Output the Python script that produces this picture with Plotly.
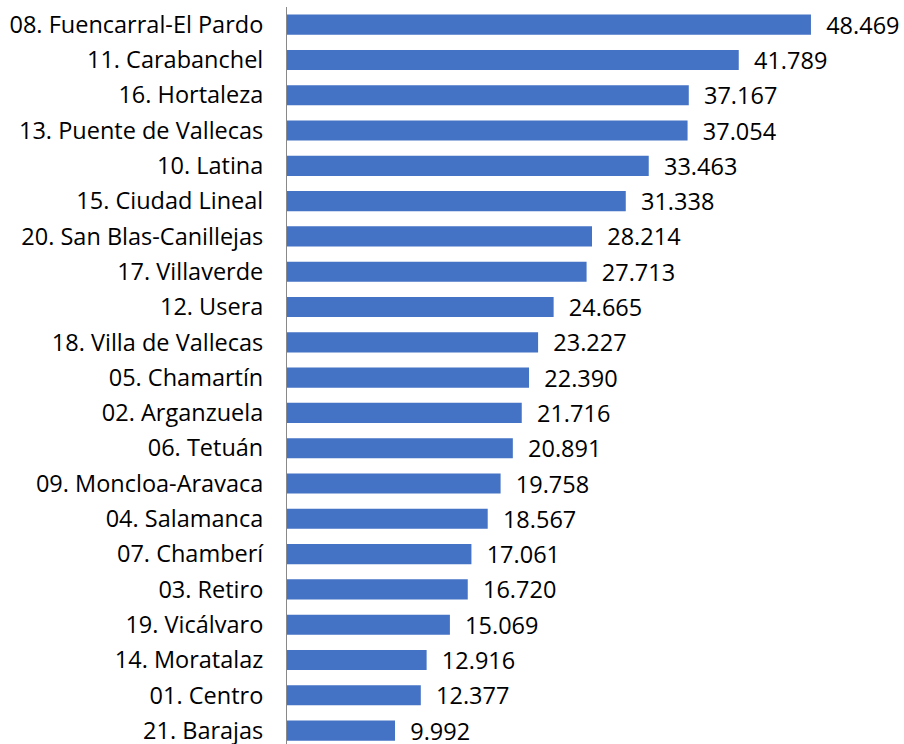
import plotly.graph_objects as go

districts = [
    "08. Fuencarral-El Pardo", "11. Carabanchel", "16. Hortaleza", "13. Puente de Vallecas",
    "10. Latina", "15. Ciudad Lineal", "20. San Blas-Canillejas", "17. Villaverde",
    "12. Usera", "18. Villa de Vallecas", "05. Chamartín", "02. Arganzuela",
    "06. Tetuán", "09. Moncloa-Aravaca", "04. Salamanca", "07. Chamberí",
    "03. Retiro", "19. Vicálvaro", "14. Moratalaz", "01. Centro", "21. Barajas",
]
values = [
    48469, 41789, 37167, 37054, 33463, 31338, 28214, 27713, 24665, 23227, 22390,
    21716, 20891, 19758, 18567, 17061, 16720, 15069, 12916, 12377, 9992,
]

FONT = "Open Sans"

fig = go.Figure(go.Bar(
    x=values, y=districts, orientation="h",
    marker=dict(color="#4472C4", line=dict(width=0)),
    texttemplate="  %{x:,}", textposition="outside",
    textfont=dict(family=FONT, size=23.5, color="#000000"),
    constraintext="none",
    cliponaxis=False,
))

fig.update_layout(
    width=904, height=744,
    margin=dict(l=287, r=0, t=7, b=0, autoexpand=False),
    plot_bgcolor="white", paper_bgcolor="white",
    separators=",.",
    bargap=0.43,
    showlegend=False,
    xaxis=dict(range=[0, 57076], showgrid=False, zeroline=False,
               showticklabels=False, showline=False, automargin=False),
    yaxis=dict(type="category", range=[20.38, -0.5], showgrid=False,
               showline=True, linecolor="#898989", linewidth=1,
               ticks="", ticklabelstandoff=18, automargin=False,
               tickfont=dict(family=FONT, size=23.5, color="#000000")),
)

fig.write_html(
    "out.html",
    config={"displayModeBar": False},
    post_script="document.body.style.margin='0';document.body.style.overflow='hidden';",
)
